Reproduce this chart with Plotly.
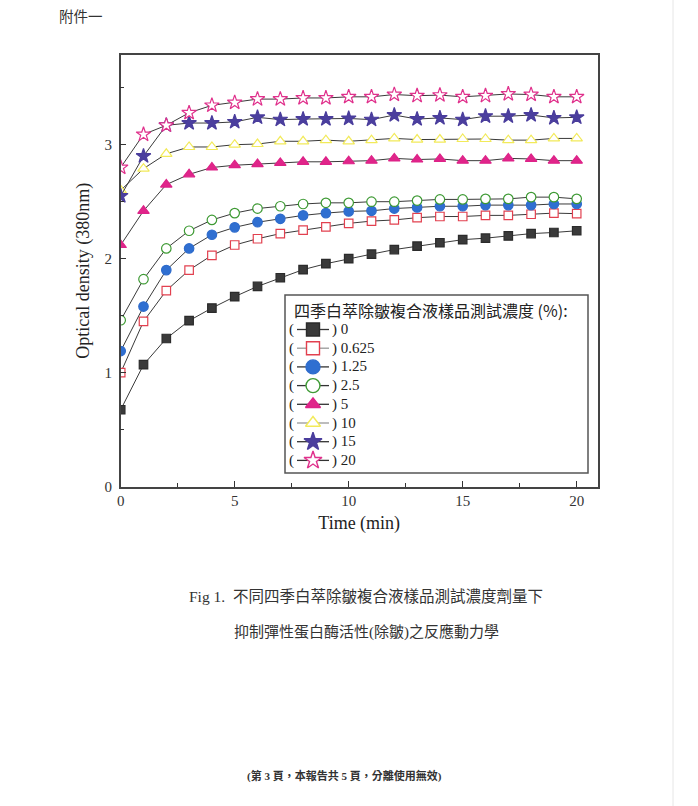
import plotly.graph_objects as go

# ---------------- data ----------------
time_min = list(range(0, 21))
conc_labels = ["0", "0.625", "1.25", "2.5", "5", "10", "15", "20"]

od_0 = [0.675, 1.07, 1.30, 1.456, 1.567, 1.667, 1.757, 1.833, 1.904, 1.956, 2.00,
        2.04, 2.08, 2.11, 2.14, 2.167, 2.18, 2.20, 2.22, 2.23, 2.245]
od_0625 = [1.00, 1.45, 1.72, 1.90, 2.03, 2.12, 2.175, 2.22, 2.25, 2.28, 2.31,
           2.33, 2.34, 2.36, 2.37, 2.37, 2.38, 2.38, 2.39, 2.40, 2.395]
od_125 = [1.19, 1.58, 1.90, 2.09, 2.21, 2.275, 2.32, 2.35, 2.38, 2.40, 2.415,
          2.42, 2.44, 2.45, 2.46, 2.46, 2.47, 2.47, 2.47, 2.48, 2.48]
od_25 = [1.46, 1.82, 2.09, 2.245, 2.34, 2.40, 2.44, 2.46, 2.48, 2.49, 2.49,
         2.50, 2.50, 2.51, 2.52, 2.52, 2.525, 2.525, 2.54, 2.54, 2.525]
od_5 = [2.12, 2.42, 2.65, 2.74, 2.80, 2.82, 2.83, 2.84, 2.85, 2.85, 2.855,
        2.86, 2.88, 2.87, 2.875, 2.86, 2.86, 2.88, 2.875, 2.86, 2.86]
od_10 = [2.60, 2.79, 2.92, 2.98, 2.98, 3.00, 3.006, 3.03, 3.03, 3.04, 3.03,
         3.04, 3.055, 3.045, 3.045, 3.05, 3.05, 3.04, 3.04, 3.055, 3.055]
od_15 = [2.55, 2.90, 3.17, 3.19, 3.19, 3.20, 3.24, 3.22, 3.225, 3.225, 3.23,
         3.22, 3.26, 3.225, 3.235, 3.22, 3.25, 3.25, 3.26, 3.235, 3.24]
od_20 = [2.80, 3.09, 3.17, 3.28, 3.345, 3.37, 3.40, 3.40, 3.41, 3.41, 3.42,
         3.42, 3.44, 3.43, 3.435, 3.42, 3.43, 3.445, 3.44, 3.42, 3.42]

series_values = [od_0, od_0625, od_125, od_25, od_5, od_10, od_15, od_20]

x_ticks = [0, 5, 10, 15, 20]
y_ticks = [0, 1, 2, 3]

# ---------------- styles ----------------
symbols = ["square", "square", "circle", "circle", "triangle-up", "triangle-up", "star", "star"]
edge_colors = ["#2b2b2b", "#e2404f", "#2f6ccc", "#3e9a34", "#dd2388", "#f2ea5a", "#4a3d9c", "#e0318c"]
fill_colors = ["#3a3a3a", "#ffffff", "#2f6fd1", "#ffffff", "#e0258a", "#ffffff", "#4b3f9e", "#ffffff"]
legend_line_colors = ["#333333", "#999999", "#333333", "#333333", "#333333", "#999999", "#333333", "#333333"]

W, H = 698, 806
px_left, px_right, px_top, px_bottom = 120.7, 597.7, 55.0, 486.7

SERIF = "Liberation Serif, Noto Sans CJK TC"
CJK = "Noto Sans CJK TC, Liberation Serif"

fig = go.Figure()

for vals, name, sym, ec, fc in zip(series_values, conc_labels, symbols, edge_colors, fill_colors):
    size = {"square": 8.5, "circle": 9.5, "triangle-up": 10, "star": 11}[sym]
    fig.add_trace(go.Scatter(
        x=time_min, y=vals, mode="lines+markers", name=name, showlegend=False,
        line=dict(color="#3a3a3a", width=1),
        marker=dict(symbol=sym, size=size, color=fc, line=dict(color=ec, width=1.2)),
        xaxis="x", yaxis="y",
    ))

# ---------------- custom legend (pixel coordinate overlay axes) ----------------
box_l, box_r, box_t, box_b = 285, 588, 295, 473
title_y = 310
row_y0, row_dy = 329.5, 18.7
sym_x, line_l, line_r = 313, 297, 329

for i, (name, sym, ec, fc, lc) in enumerate(zip(conc_labels, symbols, edge_colors, fill_colors, legend_line_colors)):
    yy = row_y0 + i * row_dy
    fig.add_trace(go.Scatter(
        x=[line_l, line_r], y=[yy, yy], mode="lines", showlegend=False, hoverinfo="skip",
        line=dict(color=lc, width=1.3), xaxis="x2", yaxis="y2"))
    lsize = {"square": 13, "circle": 14, "triangle-up": 13, "star": 13.5}[sym]
    fig.add_trace(go.Scatter(
        x=[sym_x], y=[yy], mode="markers", showlegend=False, hoverinfo="skip",
        marker=dict(symbol=sym, size=lsize, color=fc, line=dict(color=ec, width=1.4)),
        xaxis="x2", yaxis="y2"))

annotations = []
for i, name in enumerate(conc_labels):
    yy = row_y0 + i * row_dy
    annotations.append(dict(x=296, y=yy, xref="x2", yref="y2", text="(", showarrow=False,
                            xanchor="right", yanchor="middle", font=dict(family=SERIF, size=15, color="#222")))
    annotations.append(dict(x=330, y=yy, xref="x2", yref="y2", text=") " + name, showarrow=False,
                            xanchor="left", yanchor="middle", font=dict(family=SERIF, size=15, color="#222")))

annotations.append(dict(x=292, y=title_y, xref="x2", yref="y2",
                        text="四季白萃除皺複合液樣品測試濃度 (%):", showarrow=False,
                        xanchor="left", yanchor="middle", font=dict(family=CJK, size=16, color="#222")))

# page texts
annotations += [
    dict(x=57, y=15, xref="x2", yref="y2", text="附件一", showarrow=False, xanchor="left",
         yanchor="middle", font=dict(family=CJK, size=14.5, color="#333")),
    dict(x=366, y=596, xref="x2", yref="y2", text="Fig 1.  不同四季白萃除皺複合液樣品測試濃度劑量下",
         showarrow=False, xanchor="center", yanchor="middle", font=dict(family=SERIF, size=15.5, color="#333")),
    dict(x=366, y=632, xref="x2", yref="y2", text="抑制彈性蛋白酶活性(除皺)之反應動力學",
         showarrow=False, xanchor="center", yanchor="middle", font=dict(family=SERIF, size=15, color="#333")),
    dict(x=344, y=776, xref="x2", yref="y2", text="<b>(第 3 頁，本報告共 5 頁，分離使用無效)</b>",
         showarrow=False, xanchor="center", yanchor="middle", font=dict(family=SERIF, size=11, color="#333")),
]

shapes = [
    dict(type="rect", xref="x2", yref="y2", x0=box_l, x1=box_r, y0=box_t, y1=box_b,
         line=dict(color="#555555", width=1.5), fillcolor="white", layer="below"),
    dict(type="line", xref="x2", yref="y2", x0=673, x1=673, y0=0, y1=H,
         line=dict(color="#e6e6e6", width=1)),
]

fig.update_layout(
    width=W, height=H,
    margin=dict(l=0, r=0, t=0, b=0, pad=0),
    paper_bgcolor="white", plot_bgcolor="rgba(0,0,0,0)",
    font=dict(family=SERIF, size=15, color="#333"),
    showlegend=False,
    xaxis=dict(
        domain=[px_left / W, px_right / W],
        range=[0, 20 * (px_right - px_left) / (576.7 - px_left)],
        tickvals=x_ticks, ticktext=[str(v) for v in x_ticks],
        ticks="inside", ticklen=6, tickwidth=1.2, tickcolor="#333",
        minor=dict(dtick=2.5, tick0=0, ticks="inside", ticklen=4, tickwidth=1, tickcolor="#333"),
        showline=True, linecolor="#444", linewidth=1.5, mirror=True,
        showgrid=False, zeroline=False, automargin=False,
        tickfont=dict(family=SERIF, size=15, color="#333"),
        title=dict(text="Time (min)", font=dict(family=SERIF, size=18, color="#222"), standoff=8),
        anchor="y",
    ),
    yaxis=dict(
        domain=[1 - px_bottom / H, 1 - px_top / H],
        range=[0, (px_bottom - px_top) / 114.0],
        tickvals=y_ticks, ticktext=[str(v) for v in y_ticks],
        ticks="inside", ticklen=6, tickwidth=1.2, tickcolor="#333",
        minor=dict(dtick=0.5, tick0=0, ticks="inside", ticklen=4, tickwidth=1, tickcolor="#333"),
        showline=True, linecolor="#444", linewidth=1.5, mirror=True,
        showgrid=False, zeroline=False, automargin=False,
        ticklabelstandoff=4,
        tickfont=dict(family=SERIF, size=15, color="#333"),
        title=dict(text="Optical density (380nm)", font=dict(family=SERIF, size=18, color="#222"), standoff=10),
        anchor="x",
    ),
    xaxis2=dict(domain=[0, 1], range=[0, W], visible=False, anchor="y2", fixedrange=True, automargin=False),
    yaxis2=dict(domain=[0, 1], range=[H, 0], visible=False, anchor="x2", fixedrange=True, automargin=False),
    annotations=annotations,
    shapes=shapes,
)

fig.write_html(
    "out.html",
    config={"displayModeBar": False},
    post_script="document.body.style.margin='0px';document.body.style.overflow='hidden';"
                "document.documentElement.style.overflow='hidden';",
)
